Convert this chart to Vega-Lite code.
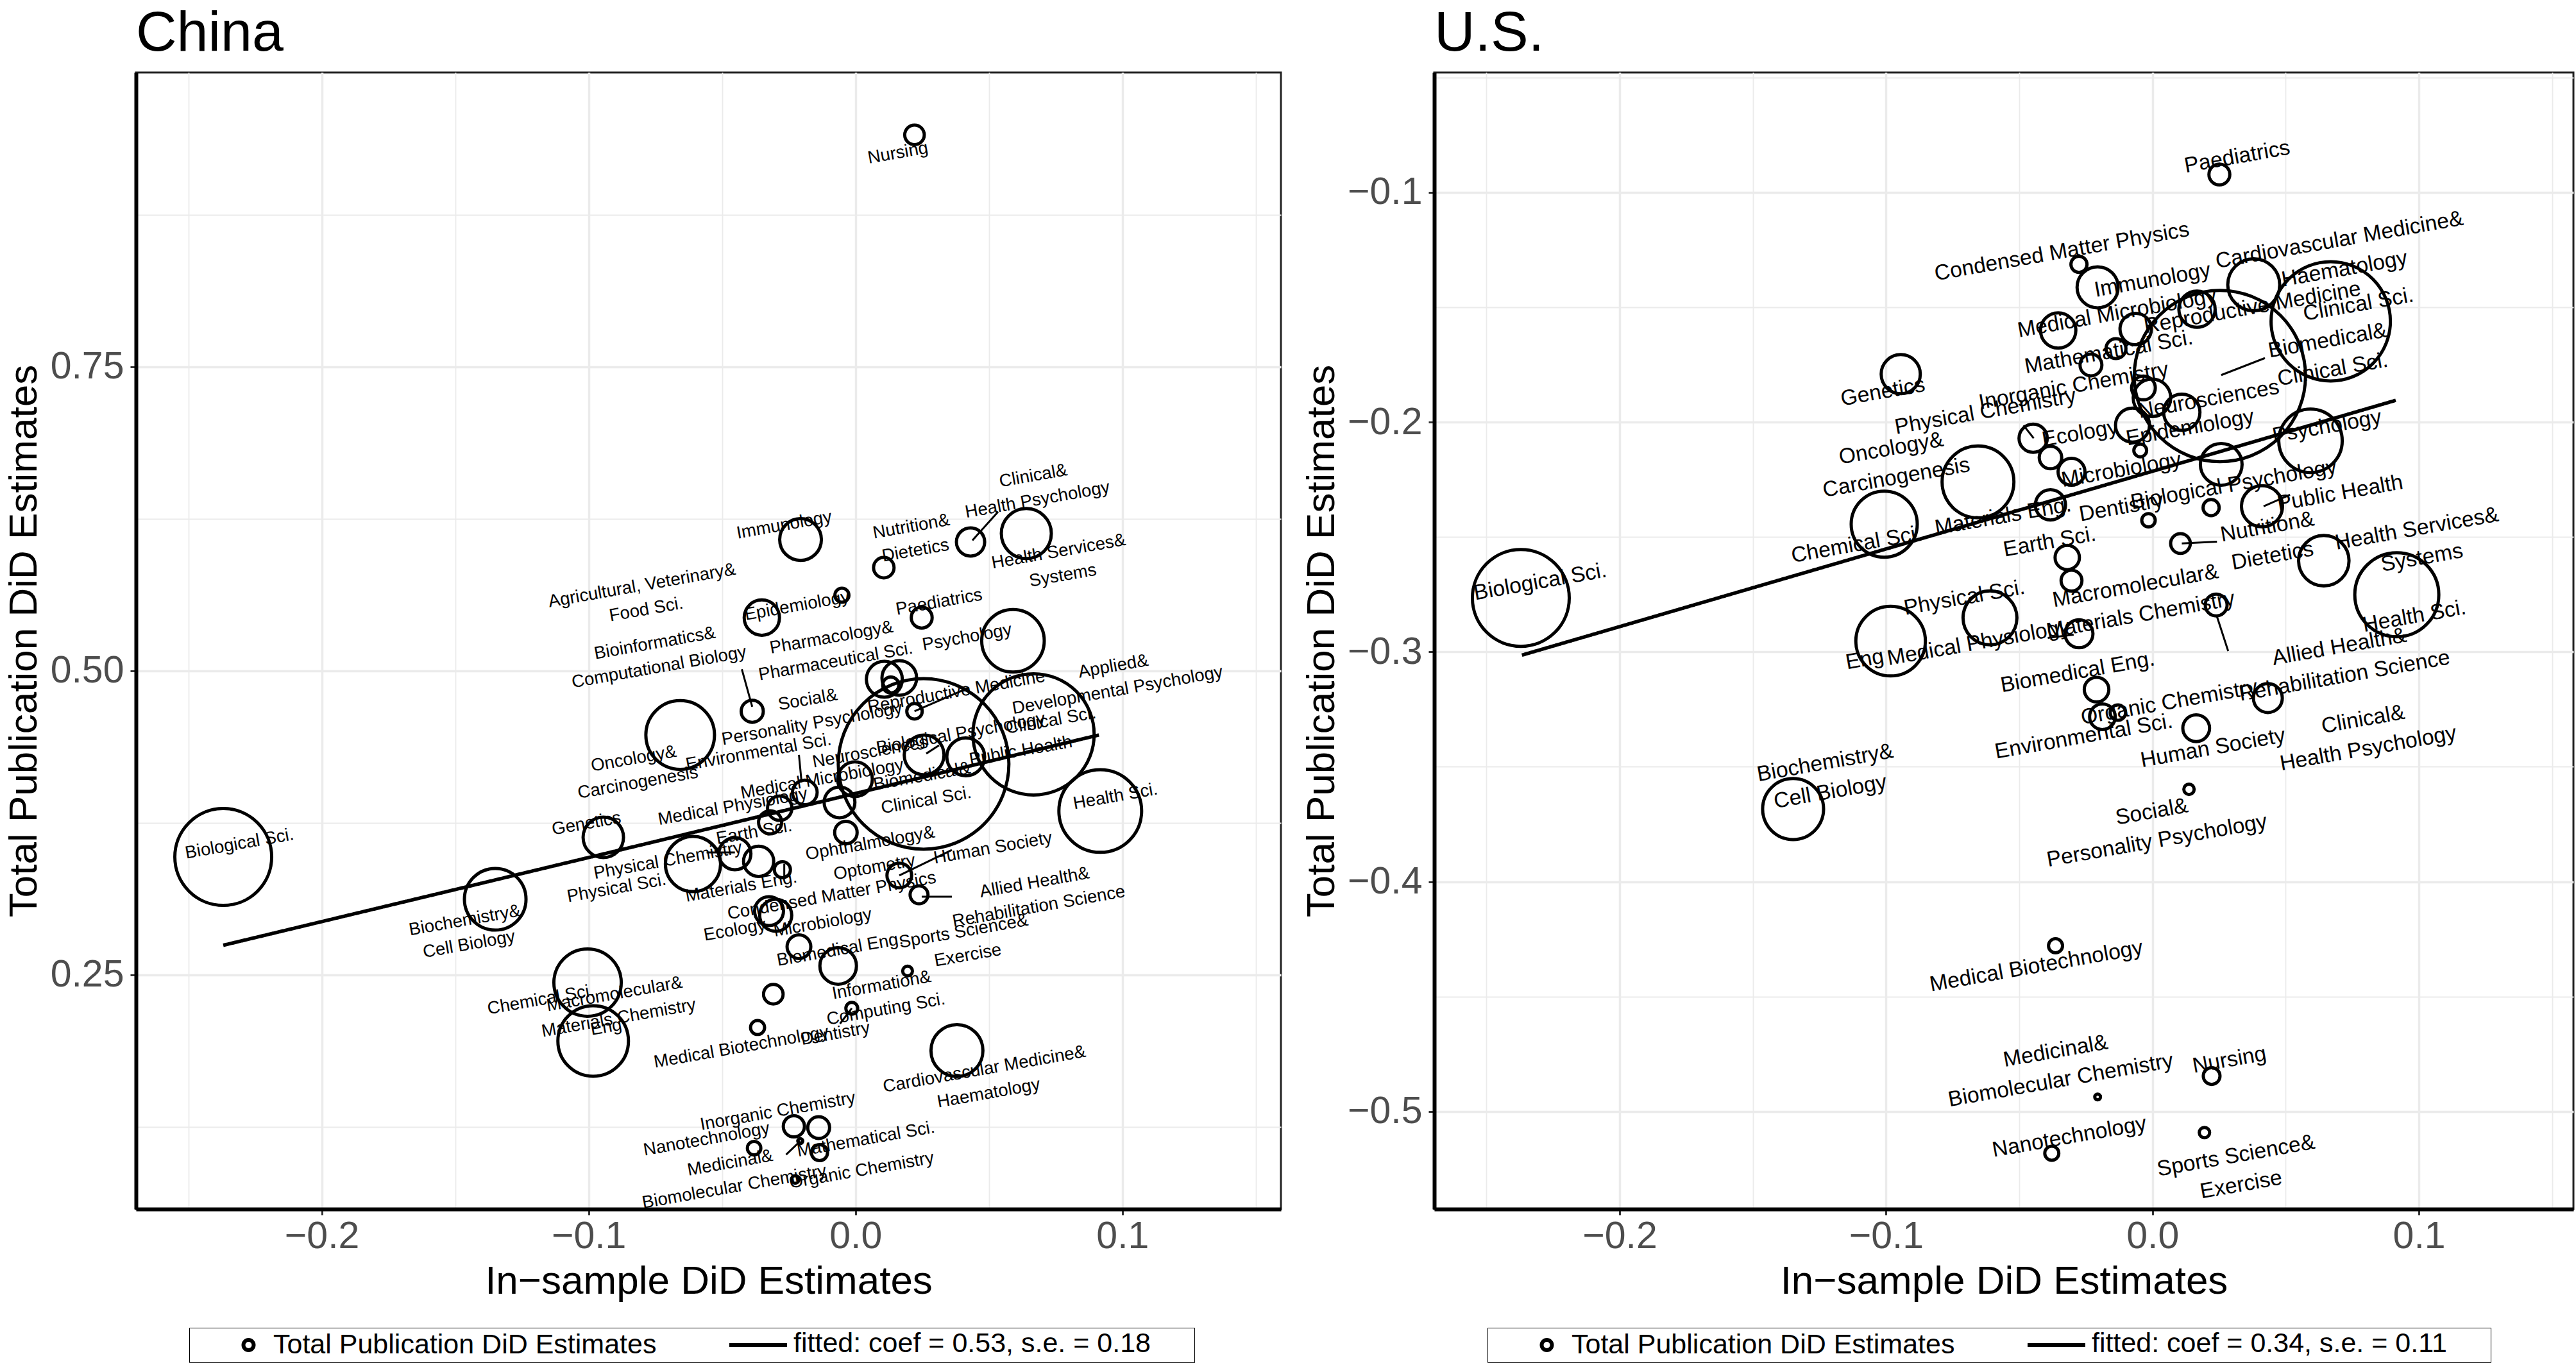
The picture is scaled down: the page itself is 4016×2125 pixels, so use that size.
{
"$schema": "https://vega.github.io/schema/vega-lite/v6.json",
"background": "white",
"padding": {"left": 5, "top": 7, "right": 5, "bottom": 0},
"config": {
  "font": "Liberation Sans",
  "view": {"stroke": "#222222", "strokeWidth": 3},
  "axis": {"domainColor": "black", "domainWidth": 6, "tickColor": "#333333", "tickWidth": 3, "tickSize": 9,
           "labelFont": "Liberation Sans", "labelFontSize": 59, "labelColor": "#4D4D4D",
           "titleFont": "Liberation Sans", "titleFontSize": 62, "titleFontWeight": "normal", "titleColor": "black",
           "gridColor": "#EBEBEB", "labelOverlap": false, "labelFlush": false},
  "axisX": {"labelPadding": 4.6, "titlePadding": 10},
  "axisY": {"labelPadding": 10, "titlePadding": 8.5},
  "legend": {"labelLimit": 3000, "titleLimit": 3000}
},
"datasets": {
  "china": [
    {"field": "Nursing", "x": 0.0221, "y": 0.9407, "n": 9.3, "label": "Nursing", "lx": 0.0159, "ly": 0.9256},
    {"field": "Immunology", "x": -0.0206, "y": 0.608, "n": 42.3, "label": "Immunology", "lx": -0.0267, "ly": 0.6197},
    {"field": "Nutrition& Dietetics", "x": 0.0106, "y": 0.5849, "n": 10.2, "label": "Nutrition&\nDietetics", "lx": 0.0217, "ly": 0.6086},
    {"field": "Clinical& Health Psychology", "x": 0.0431, "y": 0.606, "n": 19.4, "label": "Clinical&\nHealth Psychology", "lx": 0.0674, "ly": 0.6503},
    {"field": "Health Services& Systems", "x": 0.064, "y": 0.6129, "n": 60.8, "label": "Health Services&\nSystems", "lx": 0.0769, "ly": 0.5881},
    {"field": "Agricultural, Veterinary& Food Sci.", "x": -0.0351, "y": 0.5438, "n": 30.3, "label": "Agricultural, Veterinary&\nFood Sci.", "lx": -0.0792, "ly": 0.5601},
    {"field": "Epidemiology", "x": -0.0051, "y": 0.5622, "n": 4.8, "label": "Epidemiology", "lx": -0.0219, "ly": 0.5533},
    {"field": "Paediatrics", "x": 0.0248, "y": 0.5438, "n": 10.6, "label": "Paediatrics", "lx": 0.0313, "ly": 0.5564},
    {"field": "Psychology", "x": 0.059, "y": 0.5248, "n": 95.1, "label": "Psychology", "lx": 0.0418, "ly": 0.5274},
    {"field": "Pharmacology& Pharmaceutical Sci.", "x": 0.0108, "y": 0.4931, "n": 31.4, "label": "Pharmacology&\nPharmaceutical Sci.", "lx": -0.0082, "ly": 0.5174},
    {"field": "Social& Personality Psychology", "x": 0.0164, "y": 0.4942, "n": 29.2, "label": "Social&\nPersonality Psychology", "lx": -0.0171, "ly": 0.4662},
    {"field": "Bioinformatics& Computational Biology", "x": -0.0387, "y": 0.4668, "n": 11.9, "label": "Bioinformatics&\nComputational Biology", "lx": -0.0744, "ly": 0.5127},
    {"field": "Reproductive Medicine", "x": 0.0221, "y": 0.4668, "n": 5.8, "label": "Reproductive Medicine", "lx": 0.0378, "ly": 0.4826},
    {"field": "Applied& Developmental Psychology", "x": 0.0132, "y": 0.4884, "n": 6.3, "label": "Applied&\nDevelopmental Psychology", "lx": 0.0974, "ly": 0.4937},
    {"field": "Oncology& Carcinogenesis", "x": -0.0657, "y": 0.4473, "n": 114.5, "label": "Oncology&\nCarcinogenesis", "lx": -0.0823, "ly": 0.4177},
    {"field": "Environmental Sci.", "x": -0.019, "y": 0.4001, "n": 14.8, "label": "Environmental Sci.", "lx": -0.0363, "ly": 0.433},
    {"field": "Biological Psychology", "x": 0.0257, "y": 0.4309, "n": 38.4, "label": "Biological Psychology", "lx": 0.0394, "ly": 0.4483},
    {"field": "Clinical Sci.", "x": 0.0667, "y": 0.4478, "n": 357.2, "label": "Clinical Sci.", "lx": 0.0732, "ly": 0.4589},
    {"field": "Neurosciences", "x": -0.0002, "y": 0.4109, "n": 29.2, "label": "Neurosciences", "lx": 0.0055, "ly": 0.433},
    {"field": "Public Health", "x": 0.0413, "y": 0.4293, "n": 34.8, "label": "Public Health", "lx": 0.0619, "ly": 0.4341},
    {"field": "Medical Microbiology", "x": -0.006, "y": 0.3919, "n": 23.0, "label": "Medical Microbiology", "lx": -0.0125, "ly": 0.4109},
    {"field": "Biomedical& Clinical Sci.", "x": 0.0255, "y": 0.4235, "n": 707.6, "label": "Biomedical&\nClinical Sci.", "lx": 0.0257, "ly": 0.4032},
    {"field": "Health Sci.", "x": 0.0917, "y": 0.3848, "n": 166.4, "label": "Health Sci.", "lx": 0.0974, "ly": 0.3966},
    {"field": "Genetics", "x": -0.0945, "y": 0.3631, "n": 39.7, "label": "Genetics", "lx": -0.1008, "ly": 0.3742},
    {"field": "Medical Physiology", "x": -0.0284, "y": 0.3871, "n": 14.4, "label": "Medical Physiology", "lx": -0.046, "ly": 0.3882},
    {"field": "Physical Chemistry", "x": -0.032, "y": 0.3755, "n": 13.0, "label": "Physical Chemistry", "lx": -0.0703, "ly": 0.3439},
    {"field": "Earth Sci.", "x": -0.0452, "y": 0.3497, "n": 25.0, "label": "Earth Sci.", "lx": -0.038, "ly": 0.3671},
    {"field": "Physical Sci.", "x": -0.0609, "y": 0.3412, "n": 74.0, "label": "Physical Sci.", "lx": -0.0895, "ly": 0.3212},
    {"field": "Materials Eng.", "x": -0.0363, "y": 0.3434, "n": 22.1, "label": "Materials Eng.", "lx": -0.0428, "ly": 0.3223},
    {"field": "Ophthalmology& Optometry", "x": -0.0036, "y": 0.3671, "n": 12.3, "label": "Ophthalmology&\nOptometry", "lx": 0.0063, "ly": 0.3481},
    {"field": "Human Society", "x": 0.0164, "y": 0.3318, "n": 14.8, "label": "Human Society", "lx": 0.0515, "ly": 0.3542},
    {"field": "Biological Sci.", "x": -0.2369, "y": 0.347, "n": 228.0, "label": "Biological Sci.", "lx": -0.2308, "ly": 0.3576},
    {"field": "Biochemistry& Cell Biology", "x": -0.135, "y": 0.3122, "n": 92.2, "label": "Biochemistry&\nCell Biology", "lx": -0.1456, "ly": 0.2848},
    {"field": "Condensed Matter Physics", "x": -0.0299, "y": 0.2991, "n": 25.0, "label": "Condensed Matter Physics", "lx": -0.0089, "ly": 0.3149},
    {"field": "Allied Health& Rehabilitation Science", "x": 0.0238, "y": 0.3159, "n": 7.8, "label": "Allied Health&\nRehabilitation Science", "lx": 0.0679, "ly": 0.3159},
    {"field": "Ecology", "x": -0.0324, "y": 0.3025, "n": 20.3, "label": "Ecology", "lx": -0.0452, "ly": 0.2867},
    {"field": "Microbiology", "x": -0.0212, "y": 0.2732, "n": 13.7, "label": "Microbiology", "lx": -0.0123, "ly": 0.2927},
    {"field": "Macromolecular& Materials Chemistry", "x": -0.0308, "y": 0.2342, "n": 9.3, "label": "Macromolecular&\nMaterials Chemistry", "lx": -0.0895, "ly": 0.2242},
    {"field": "Biomedical Eng.", "x": -0.0065, "y": 0.2574, "n": 32.5, "label": "Biomedical Eng.", "lx": -0.0058, "ly": 0.2706},
    {"field": "Sports Science& Exercise", "x": 0.0195, "y": 0.2532, "n": 2.3, "label": "Sports Science&\nExercise", "lx": 0.0413, "ly": 0.2758},
    {"field": "Chemical Sci.", "x": -0.1004, "y": 0.2437, "n": 110.3, "label": "Chemical Sci.", "lx": -0.1179, "ly": 0.2294},
    {"field": "Information& Computing Sci.", "x": -0.0014, "y": 0.2226, "n": 3.4, "label": "Information&\nComputing Sci.", "lx": 0.0106, "ly": 0.2315},
    {"field": "Eng", "x": -0.0983, "y": 0.1957, "n": 121.0, "label": "Eng", "lx": -0.0934, "ly": 0.2068},
    {"field": "Dentistry", "x": -0.0207, "y": 0.1134, "n": 0.6, "label": "Dentistry", "lx": -0.0075, "ly": 0.2015},
    {"field": "Medical Biotechnology", "x": -0.0367, "y": 0.2068, "n": 4.8, "label": "Medical Biotechnology", "lx": -0.0428, "ly": 0.1904},
    {"field": "Cardiovascular Medicine& Haematology", "x": 0.038, "y": 0.1878, "n": 65.6, "label": "Cardiovascular Medicine&\nHaematology", "lx": 0.0491, "ly": 0.1624},
    {"field": "Inorganic Chemistry", "x": -0.0231, "y": 0.1255, "n": 10.9, "label": "Inorganic Chemistry", "lx": -0.0291, "ly": 0.1377},
    {"field": "Nanotechnology", "x": -0.038, "y": 0.1076, "n": 4.4, "label": "Nanotechnology", "lx": -0.0558, "ly": 0.1147},
    {"field": "Mathematical Sci.", "x": -0.0138, "y": 0.1245, "n": 11.6, "label": "Mathematical Sci.", "lx": 0.0039, "ly": 0.1147},
    {"field": "Medicinal& Biomolecular Chemistry", "x": -0.0226, "y": 0.0818, "n": 1.4, "label": "Medicinal&\nBiomolecular Chemistry", "lx": -0.0462, "ly": 0.0854},
    {"field": "Organic Chemistry", "x": -0.0135, "y": 0.1039, "n": 6.3, "label": "Organic Chemistry", "lx": 0.0023, "ly": 0.0891},
    {"field": "(unlabelled)", "x": -0.0274, "y": 0.3365, "n": 6.3, "label": null, "lx": null, "ly": null}
  ],
  "us": [
    {"field": "Paediatrics", "x": 0.0251, "y": -0.0922, "n": 10.6, "label": "Paediatrics", "lx": 0.0318, "ly": -0.0846},
    {"field": "Condensed Matter Physics", "x": -0.0276, "y": -0.1313, "n": 6.3, "label": "Condensed Matter Physics", "lx": -0.034, "ly": -0.1259},
    {"field": "Immunology", "x": -0.0206, "y": -0.1413, "n": 41.0, "label": "Immunology", "lx": 0.0, "ly": -0.1383},
    {"field": "Cardiovascular Medicine& Haematology", "x": 0.038, "y": -0.1402, "n": 65.6, "label": "Cardiovascular Medicine&\nHaematology", "lx": 0.0711, "ly": -0.1271},
    {"field": "Reproductive Medicine", "x": 0.0167, "y": -0.1508, "n": 32.0, "label": "Reproductive Medicine", "lx": 0.0375, "ly": -0.1502},
    {"field": "Clinical Sci.", "x": 0.0669, "y": -0.1561, "n": 346.0, "label": "Clinical Sci.", "lx": 0.0773, "ly": -0.1489},
    {"field": "Biomedical& Clinical Sci.", "x": 0.0253, "y": -0.1799, "n": 712.9, "label": "Biomedical&\nClinical Sci.", "lx": 0.0667, "ly": -0.1709},
    {"field": "Medical Microbiology", "x": -0.0354, "y": -0.1601, "n": 30.3, "label": "Medical Microbiology", "lx": -0.0133, "ly": -0.1527},
    {"field": "Mathematical Sci.", "x": -0.0137, "y": -0.168, "n": 9.6, "label": "Mathematical Sci.", "lx": -0.0164, "ly": -0.1696},
    {"field": "Agricultural, Veterinary& Food Sci.", "x": -0.0063, "y": -0.1595, "n": 24.0, "label": null, "lx": null, "ly": null},
    {"field": "Inorganic Chemistry", "x": -0.0231, "y": -0.1751, "n": 11.6, "label": "Inorganic Chemistry", "lx": -0.0296, "ly": -0.1844},
    {"field": "Genetics", "x": -0.0945, "y": -0.1791, "n": 37.2, "label": "Genetics", "lx": -0.1012, "ly": -0.1869},
    {"field": "Physical Chemistry", "x": -0.0448, "y": -0.207, "n": 19.4, "label": "Physical Chemistry", "lx": -0.0627, "ly": -0.1955},
    {"field": "Neurosciences", "x": -0.0002, "y": -0.1894, "n": 34.2, "label": "Neurosciences", "lx": 0.0211, "ly": -0.1901},
    {"field": "Epidemiology", "x": 0.011, "y": -0.1957, "n": 32.0, "label": "Epidemiology", "lx": 0.0141, "ly": -0.2025},
    {"field": "Ecology", "x": -0.0075, "y": -0.2013, "n": 28.1, "label": "Ecology", "lx": -0.0272, "ly": -0.205},
    {"field": "Psychology", "x": 0.0593, "y": -0.2081, "n": 98.0, "label": "Psychology", "lx": 0.0655, "ly": -0.202},
    {"field": "Bioinformatics& Computational Biology", "x": -0.0383, "y": -0.2154, "n": 12.3, "label": null, "lx": null, "ly": null},
    {"field": "Microbiology", "x": -0.0304, "y": -0.2216, "n": 17.6, "label": "Microbiology", "lx": -0.0117, "ly": -0.2209},
    {"field": "Biological Psychology", "x": 0.0258, "y": -0.2184, "n": 42.3, "label": "Biological Psychology", "lx": 0.0305, "ly": -0.2273},
    {"field": "Oncology& Carcinogenesis", "x": -0.0655, "y": -0.226, "n": 125.4, "label": "Oncology&\nCarcinogenesis", "lx": -0.0971, "ly": -0.2179},
    {"field": "Chemical Sci.", "x": -0.1007, "y": -0.2444, "n": 106.1, "label": "Chemical Sci.", "lx": -0.1111, "ly": -0.2534},
    {"field": "Materials Eng.", "x": -0.0383, "y": -0.236, "n": 22.1, "label": "Materials Eng.", "lx": -0.0561, "ly": -0.2411},
    {"field": "Earth Sci.", "x": -0.032, "y": -0.2589, "n": 14.4, "label": "Earth Sci.", "lx": -0.0386, "ly": -0.2522},
    {"field": "Macromolecular& Materials Chemistry", "x": -0.0304, "y": -0.269, "n": 10.6, "label": "Macromolecular&\nMaterials Chemistry", "lx": -0.0054, "ly": -0.2777},
    {"field": "Dentistry", "x": -0.0015, "y": -0.2427, "n": 4.4, "label": "Dentistry", "lx": -0.0117, "ly": -0.2372},
    {"field": "Applied& Developmental Psychology", "x": 0.022, "y": -0.2372, "n": 6.3, "label": null, "lx": null, "ly": null},
    {"field": "Public Health", "x": 0.0411, "y": -0.2366, "n": 41.0, "label": "Public Health", "lx": 0.0704, "ly": -0.231},
    {"field": "Nutrition& Dietetics", "x": 0.0105, "y": -0.2528, "n": 9.4, "label": "Nutrition&\nDietetics", "lx": 0.0441, "ly": -0.252},
    {"field": "Health Services& Systems", "x": 0.0643, "y": -0.2603, "n": 61.8, "label": "Health Services&\nSystems", "lx": 0.1002, "ly": -0.2528},
    {"field": "Health Sci.", "x": 0.0917, "y": -0.2751, "n": 171.6, "label": "Health Sci.", "lx": 0.0983, "ly": -0.2846},
    {"field": "Biological Sci.", "x": -0.2371, "y": -0.2765, "n": 228.0, "label": "Biological Sci.", "lx": -0.2298, "ly": -0.2696},
    {"field": "Physical Sci.", "x": -0.061, "y": -0.2852, "n": 70.6, "label": "Physical Sci.", "lx": -0.0706, "ly": -0.2765},
    {"field": "Eng", "x": -0.0983, "y": -0.2953, "n": 117.7, "label": "Eng", "lx": -0.108, "ly": -0.3034},
    {"field": "Medical Physiology", "x": -0.0276, "y": -0.2921, "n": 19.0, "label": "Medical Physiology", "lx": -0.0653, "ly": -0.2961},
    {"field": "Allied Health& Rehabilitation Science", "x": 0.0239, "y": -0.2796, "n": 11.6, "label": "Allied Health&\nRehabilitation Science", "lx": 0.0711, "ly": -0.3042},
    {"field": "Biomedical Eng.", "x": -0.021, "y": -0.3164, "n": 14.7, "label": "Biomedical Eng.", "lx": -0.0281, "ly": -0.3089},
    {"field": "Organic Chemistry", "x": -0.013, "y": -0.3264, "n": 5.8, "label": "Organic Chemistry", "lx": 0.0063, "ly": -0.3221},
    {"field": "Environmental Sci.", "x": -0.0188, "y": -0.3282, "n": 16.0, "label": "Environmental Sci.", "lx": -0.0258, "ly": -0.3369},
    {"field": "Clinical& Health Psychology", "x": 0.0433, "y": -0.3201, "n": 20.3, "label": "Clinical&\nHealth Psychology", "lx": 0.08, "ly": -0.3358},
    {"field": "Human Society", "x": 0.0164, "y": -0.3332, "n": 17.4, "label": "Human Society", "lx": 0.0227, "ly": -0.3419},
    {"field": "Social& Personality Psychology", "x": 0.0137, "y": -0.3598, "n": 2.6, "label": "Social&\nPersonality Psychology", "lx": 0.0007, "ly": -0.376},
    {"field": "Biochemistry& Cell Biology", "x": -0.1349, "y": -0.3684, "n": 90.3, "label": "Biochemistry&\nCell Biology", "lx": -0.1219, "ly": -0.3547},
    {"field": "Medical Biotechnology", "x": -0.0364, "y": -0.4279, "n": 4.8, "label": "Medical Biotechnology", "lx": -0.0436, "ly": -0.4369},
    {"field": "Medicinal& Biomolecular Chemistry", "x": -0.0206, "y": -0.4937, "n": 0.8, "label": "Medicinal&\nBiomolecular Chemistry", "lx": -0.0354, "ly": -0.4802},
    {"field": "Nursing", "x": 0.0222, "y": -0.4846, "n": 6.8, "label": "Nursing", "lx": 0.0289, "ly": -0.4777},
    {"field": "Nanotechnology", "x": -0.0378, "y": -0.5182, "n": 4.8, "label": "Nanotechnology", "lx": -0.0312, "ly": -0.5112},
    {"field": "Sports Science& Exercise", "x": 0.0195, "y": -0.5092, "n": 2.6, "label": "Sports Science&\nExercise", "lx": 0.0323, "ly": -0.5257},
    {"field": "Information& Computing Sci.", "x": -0.0046, "y": -0.2123, "n": 4.0, "label": null, "lx": null, "ly": null},
    {"field": "Pharmacology& Pharmaceutical Sci.", "x": -0.0034, "y": -0.1851, "n": 13.7, "label": null, "lx": null, "ly": null}
  ],
  "chinaFit": [{"x": -0.2369, "y": 0.2744}, {"x": 0.0912, "y": 0.4473}],
  "usFit": [{"x": -0.2367, "y": -0.3014}, {"x": 0.0913, "y": -0.1905}],
  "chinaSeg": [
    {"x": 0.0438, "y": 0.6073, "x2": 0.0534, "y2": 0.6308},
    {"x": -0.0387, "y": 0.4705, "x2": -0.0426, "y2": 0.5013},
    {"x": 0.0221, "y": 0.4668, "x2": 0.0426, "y2": 0.4863},
    {"x": -0.0212, "y": 0.4309, "x2": -0.0202, "y2": 0.4082},
    {"x": 0.0265, "y": 0.432, "x2": 0.0313, "y2": 0.4388},
    {"x": 0.0164, "y": 0.3318, "x2": 0.0361, "y2": 0.3528},
    {"x": 0.0248, "y": 0.3143, "x2": 0.0361, "y2": 0.3143},
    {"x": -0.0014, "y": 0.2226, "x2": -0.0058, "y2": 0.2099},
    {"x": -0.0207, "y": 0.1134, "x2": -0.026, "y2": 0.1023},
    {"x": -0.0558, "y": 0.3507, "x2": -0.0452, "y2": 0.3507},
    {"x": -0.0267, "y": 0.3412, "x2": -0.0267, "y2": 0.3307}
  ],
  "usSeg": [
    {"x": 0.0258, "y": -0.1795, "x2": 0.0422, "y2": -0.1721},
    {"x": -0.0484, "y": -0.2014, "x2": -0.0446, "y2": -0.207},
    {"x": 0.0417, "y": -0.2366, "x2": 0.0516, "y2": -0.2316},
    {"x": 0.011, "y": -0.2528, "x2": 0.0242, "y2": -0.252},
    {"x": 0.0242, "y": -0.2846, "x2": 0.0284, "y2": -0.2996},
    {"x": -0.0393, "y": -0.2939, "x2": -0.0296, "y2": -0.2925}
  ]
},
"spacing": 239,
"bounds": "flush",
"hconcat": [
  {
    "width": 1785, "height": 1772,
    "title": {"text": "China", "anchor": "start", "frame": "group", "fontSize": 88, "fontWeight": "normal", "color": "black", "offset": 16},
    "layer": [
      {
        "data": {"name": "china"},
        "mark": {"type": "point", "shape": "circle", "filled": false, "strokeWidth": 5, "opacity": 1},
        "encoding": {
          "x": {"field": "x", "type": "quantitative", "title": "In−sample DiD Estimates",
                "scale": {"domain": [-0.2696, 0.1594], "nice": false, "zero": false},
                "axis": {"values": [-0.25, -0.2, -0.15, -0.1, -0.05, 0, 0.05, 0.1, 0.15], "format": ".1f",
                         "labelExpr": "abs(datum.value*10-round(datum.value*10))<0.001 ? datum.label : ''",
                         "labelFontSize": {"condition": {"test": "abs(datum.value*10-round(datum.value*10))<0.001", "value": 59}, "value": 0},
                         "tickOpacity": {"condition": {"test": "abs(datum.value*10-round(datum.value*10))<0.001", "value": 1}, "value": 0},
                         "gridWidth": {"condition": {"test": "abs(datum.value*10-round(datum.value*10))<0.001", "value": 3.5}, "value": 1.8}}},
          "y": {"field": "y", "type": "quantitative", "title": "Total Publication DiD Estimates",
                "scale": {"domain": [0.0575, 0.992], "nice": false, "zero": false},
                "axis": {"values": [0.125, 0.25, 0.375, 0.5, 0.625, 0.75, 0.875], "format": ".2f",
                         "labelExpr": "abs(datum.value*4-round(datum.value*4))<0.001 ? datum.label : ''",
                         "labelFontSize": {"condition": {"test": "abs(datum.value*4-round(datum.value*4))<0.001", "value": 59}, "value": 0},
                         "tickOpacity": {"condition": {"test": "abs(datum.value*4-round(datum.value*4))<0.001", "value": 1}, "value": 0},
                         "gridWidth": {"condition": {"test": "abs(datum.value*4-round(datum.value*4))<0.001", "value": 3.5}, "value": 1.8}}},
          "size": {"field": "n", "type": "quantitative", "scale": {"type": "linear", "domain": [0, 100], "range": [0, 10000], "zero": true}, "legend": null},
          "color": {"datum": "Total Publication DiD Estimates", "type": "nominal",
                    "scale": {"domain": ["Total Publication DiD Estimates"], "range": ["black"]},
                    "legend": {"title": "fitted: coef = 0.53, s.e. = 0.18\u2800\u2800",
                               "titleOrient": "right", "titleAnchor": "start", "titleBaseline": "top", "titlePadding": 214,
                               "titleFontSize": 43, "titleFontWeight": "normal", "titleColor": "black", "titleFont": "Liberation Sans",
                               "orient": "none", "legendX": 83, "legendY": 1957, "direction": "horizontal",
                               "labelFontSize": 43, "labelColor": "black", "labelFont": "Liberation Sans",
                               "symbolType": "circle", "symbolSize": 256, "symbolStrokeWidth": 6, "symbolStrokeColor": "black", "symbolFillColor": "transparent",
                               "symbolOffset": 67, "labelOffset": 17, "clipHeight": 46, "padding": 4,
                               "strokeColor": "black"}}
        }
      },
      {
        "data": {"name": "chinaFit"},
        "mark": {"type": "line", "strokeWidth": 5.5, "color": "black"},
        "encoding": {
          "x": {"field": "x", "type": "quantitative", "title": "In−sample DiD Estimates"},
          "y": {"field": "y", "type": "quantitative", "title": "Total Publication DiD Estimates"},
          "strokeDash": {"datum": "fitted: coef = 0.53, s.e. = 0.18", "type": "nominal",
                         "scale": {"domain": ["fitted: coef = 0.53, s.e. = 0.18"], "range": [[1, 0]]},
                         "legend": {"title": null, "orient": "none", "legendX": 922, "legendY": 1961, "direction": "horizontal",
                                    "labelFontSize": 43, "labelExpr": "''",
                                    "symbolType": "stroke", "symbolSize": 8100, "symbolStrokeWidth": 6, "symbolStrokeColor": "black",
                                    "labelOffset": 11, "clipHeight": 46, "padding": 0}}
        }
      },
      {
        "data": {"name": "chinaSeg"},
        "mark": {"type": "rule", "strokeWidth": 3, "color": "black"},
        "encoding": {
          "x": {"field": "x", "type": "quantitative", "title": "In−sample DiD Estimates"},
          "y": {"field": "y", "type": "quantitative", "title": "Total Publication DiD Estimates"},
          "x2": {"field": "x2"}, "y2": {"field": "y2"}
        }
      },
      {
        "data": {"name": "china"},
        "transform": [{"filter": "isValid(datum.label) && indexof(datum.label, '\\n') < 0"}],
        "mark": {"type": "text", "angle": -10, "fontSize": 27.6, "font": "Liberation Sans", "color": "black", "align": "center", "baseline": "middle"},
        "encoding": {
          "x": {"field": "lx", "type": "quantitative", "title": "In−sample DiD Estimates"},
          "y": {"field": "ly", "type": "quantitative", "title": "Total Publication DiD Estimates"},
          "text": {"field": "label"}
        }
      },
      {
        "data": {"name": "china"},
        "transform": [{"filter": "isValid(datum.label) && indexof(datum.label, '\\n') >= 0"}],
        "mark": {"type": "text", "angle": -10, "fontSize": 27.6, "font": "Liberation Sans", "color": "black", "align": "center", "baseline": "middle", "lineBreak": "\n", "lineHeight": 38, "dy": -19},
        "encoding": {
          "x": {"field": "lx", "type": "quantitative", "title": "In−sample DiD Estimates"},
          "y": {"field": "ly", "type": "quantitative", "title": "Total Publication DiD Estimates"},
          "text": {"field": "label"}
        }
      }
    ]
  },
  {
    "width": 1776, "height": 1772,
    "title": {"text": "U.S.", "anchor": "start", "frame": "group", "fontSize": 88, "fontWeight": "normal", "color": "black", "offset": 16},
    "layer": [
      {
        "data": {"name": "us"},
        "mark": {"type": "point", "shape": "circle", "filled": false, "strokeWidth": 5, "opacity": 1},
        "encoding": {
          "x": {"field": "x", "type": "quantitative", "title": "In−sample DiD Estimates",
                "scale": {"domain": [-0.2696, 0.158], "nice": false, "zero": false},
                "axis": {"values": [-0.25, -0.2, -0.15, -0.1, -0.05, 0, 0.05, 0.1, 0.15], "format": ".1f",
                         "labelExpr": "abs(datum.value*10-round(datum.value*10))<0.001 ? datum.label : ''",
                         "labelFontSize": {"condition": {"test": "abs(datum.value*10-round(datum.value*10))<0.001", "value": 59}, "value": 0},
                         "tickOpacity": {"condition": {"test": "abs(datum.value*10-round(datum.value*10))<0.001", "value": 1}, "value": 0},
                         "gridWidth": {"condition": {"test": "abs(datum.value*10-round(datum.value*10))<0.001", "value": 3.5}, "value": 1.8}}},
          "y": {"field": "y", "type": "quantitative", "title": "Total Publication DiD Estimates",
                "scale": {"domain": [-0.5425, -0.0478], "nice": false, "zero": false},
                "axis": {"values": [-0.5, -0.45, -0.4, -0.35, -0.3, -0.25, -0.2, -0.15, -0.1, -0.05], "format": ".1f",
                         "labelExpr": "abs(datum.value*10-round(datum.value*10))<0.001 ? datum.label : ''",
                         "labelFontSize": {"condition": {"test": "abs(datum.value*10-round(datum.value*10))<0.001", "value": 59}, "value": 0},
                         "tickOpacity": {"condition": {"test": "abs(datum.value*10-round(datum.value*10))<0.001", "value": 1}, "value": 0},
                         "gridWidth": {"condition": {"test": "abs(datum.value*10-round(datum.value*10))<0.001", "value": 3.5}, "value": 1.8}}},
          "size": {"field": "n", "type": "quantitative", "scale": {"type": "linear", "domain": [0, 100], "range": [0, 10000], "zero": true}, "legend": null},
          "color": {"datum": "Total Publication DiD Estimates", "type": "nominal",
                    "scale": {"domain": ["Total Publication DiD Estimates"], "range": ["black"]},
                    "legend": {"title": "fitted: coef = 0.34, s.e. = 0.11\u2800\u2800",
                               "titleOrient": "right", "titleAnchor": "start", "titleBaseline": "top", "titlePadding": 214,
                               "titleFontSize": 43, "titleFontWeight": "normal", "titleColor": "black", "titleFont": "Liberation Sans",
                               "orient": "none", "legendX": 83, "legendY": 1957, "direction": "horizontal",
                               "labelFontSize": 43, "labelColor": "black", "labelFont": "Liberation Sans",
                               "symbolType": "circle", "symbolSize": 256, "symbolStrokeWidth": 6, "symbolStrokeColor": "black", "symbolFillColor": "transparent",
                               "symbolOffset": 67, "labelOffset": 17, "clipHeight": 46, "padding": 4,
                               "strokeColor": "black"}}
        }
      },
      {
        "data": {"name": "usFit"},
        "mark": {"type": "line", "strokeWidth": 5.5, "color": "black"},
        "encoding": {
          "x": {"field": "x", "type": "quantitative", "title": "In−sample DiD Estimates"},
          "y": {"field": "y", "type": "quantitative", "title": "Total Publication DiD Estimates"},
          "strokeDash": {"datum": "fitted: coef = 0.34, s.e. = 0.11", "type": "nominal",
                         "scale": {"domain": ["fitted: coef = 0.34, s.e. = 0.11"], "range": [[1, 0]]},
                         "legend": {"title": null, "orient": "none", "legendX": 922, "legendY": 1961, "direction": "horizontal",
                                    "labelFontSize": 43, "labelExpr": "''",
                                    "symbolType": "stroke", "symbolSize": 8100, "symbolStrokeWidth": 6, "symbolStrokeColor": "black",
                                    "labelOffset": 11, "clipHeight": 46, "padding": 0}}
        }
      },
      {
        "data": {"name": "usSeg"},
        "mark": {"type": "rule", "strokeWidth": 3, "color": "black"},
        "encoding": {
          "x": {"field": "x", "type": "quantitative", "title": "In−sample DiD Estimates"},
          "y": {"field": "y", "type": "quantitative", "title": "Total Publication DiD Estimates"},
          "x2": {"field": "x2"}, "y2": {"field": "y2"}
        }
      },
      {
        "data": {"name": "us"},
        "transform": [{"filter": "isValid(datum.label) && indexof(datum.label, '\\n') < 0"}],
        "mark": {"type": "text", "angle": -10, "fontSize": 33.7, "font": "Liberation Sans", "color": "black", "align": "center", "baseline": "middle"},
        "encoding": {
          "x": {"field": "lx", "type": "quantitative", "title": "In−sample DiD Estimates"},
          "y": {"field": "ly", "type": "quantitative", "title": "Total Publication DiD Estimates"},
          "text": {"field": "label"}
        }
      },
      {
        "data": {"name": "us"},
        "transform": [{"filter": "isValid(datum.label) && indexof(datum.label, '\\n') >= 0"}],
        "mark": {"type": "text", "angle": -10, "fontSize": 33.7, "font": "Liberation Sans", "color": "black", "align": "center", "baseline": "middle", "lineBreak": "\n", "lineHeight": 46, "dy": -23},
        "encoding": {
          "x": {"field": "lx", "type": "quantitative", "title": "In−sample DiD Estimates"},
          "y": {"field": "ly", "type": "quantitative", "title": "Total Publication DiD Estimates"},
          "text": {"field": "label"}
        }
      }
    ]
  }
],
"resolve": {"scale": {"color": "independent", "strokeDash": "independent", "x": "independent", "y": "independent", "size": "independent"}, "legend": {"color": "independent", "strokeDash": "independent"}}
}
